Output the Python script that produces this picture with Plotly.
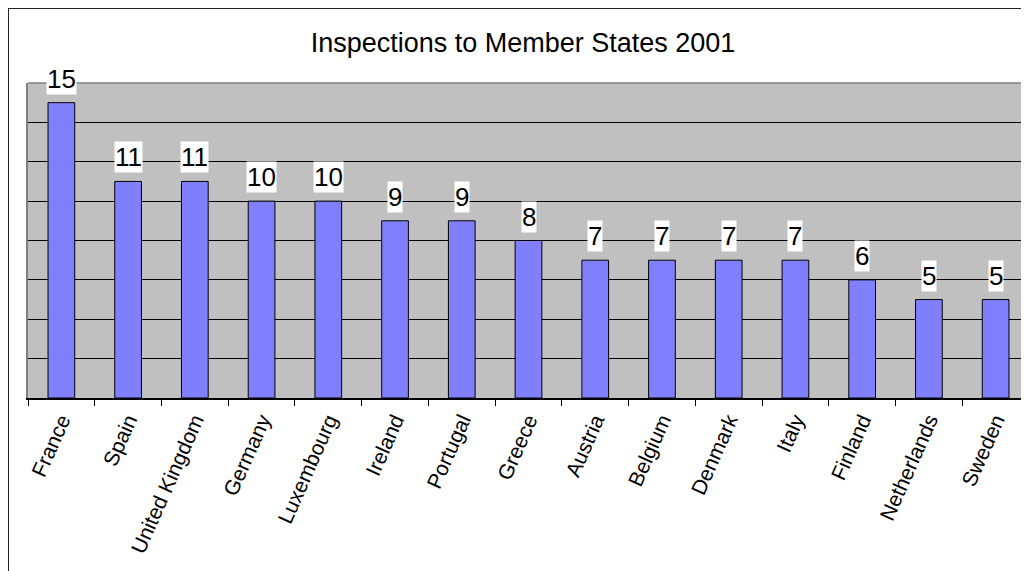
import plotly.graph_objects as go

countries = ["France", "Spain", "United Kingdom", "Germany", "Luxembourg", "Ireland",
             "Portugal", "Greece", "Austria", "Belgium", "Denmark", "Italy",
             "Finland", "Netherlands", "Sweden"]
inspections = [15, 11, 11, 10, 10, 9, 9, 8, 7, 7, 7, 7, 6, 5, 5]
y_gridvals = [0, 2, 4, 6, 8, 10, 12, 14]

FONT = "Arial, Liberation Sans, sans-serif"

W, H = 1021, 563
L, T, B = 20, 75, 173
PW, PH = W - L, H - T - B

fig = go.Figure()
fig.add_trace(go.Bar(
    x=countries, y=inspections,
    marker=dict(color="#8080FF", line=dict(color="#000000", width=1)),
    hoverinfo="x+y",
))

for c, v in zip(countries, inspections):
    fig.add_annotation(x=c, y=v, text=str(v), showarrow=False,
                       yanchor="bottom", yshift=8,
                       font=dict(family=FONT, size=26, color="#000000"),
                       bgcolor="#FFFFFF", borderpad=0)

# outer chart frame (left and top lines visible)
fx = (0 - L) / PW
fy = (PH + T - 0) / PH
fig.add_shape(type="line", xref="paper", yref="paper",
              x0=fx, x1=fx, y0=fy, y1=-0.7,
              line=dict(color="#222222", width=2))
fig.add_shape(type="line", xref="paper", yref="paper",
              x0=fx, x1=1.02, y0=fy, y1=fy,
              line=dict(color="#222222", width=2))
# plot area top border
fig.add_shape(type="line", xref="paper", yref="paper",
              x0=0, x1=1, y0=1, y1=1,
              line=dict(color="#808080", width=1.5))

fig.update_layout(
    width=W, height=H,
    margin=dict(l=L, r=0, t=T, b=B),
    paper_bgcolor="#FFFFFF",
    plot_bgcolor="#C0C0C0",
    bargap=0.6,
    showlegend=False,
    font=dict(family=FONT, color="#000000"),
    title=dict(text="Inspections to Member States 2001", x=515 / W, xanchor="center",
               y=1 - 35 / H, yanchor="middle", xref="container", yref="container",
               font=dict(family=FONT, size=27, color="#000000")),
    xaxis=dict(
        type="category", tickson="boundaries", ticks="outside", ticklen=6,
        tickcolor="#000000", tickwidth=1,
        showline=True, linecolor="#000000", linewidth=1.5,
        tickangle=-66, tickfont=dict(family=FONT, size=21, color="#000000"),
        showgrid=False, range=[-0.5, 14.5],
    ),
    yaxis=dict(
        range=[0, 16], tickvals=y_gridvals, showticklabels=False,
        showgrid=True, gridcolor="#000000", gridwidth=1,
        zeroline=False, showline=True, linecolor="#808080", linewidth=1.5,
        ticks="",
    ),
)

fig.write_html("out.html")
